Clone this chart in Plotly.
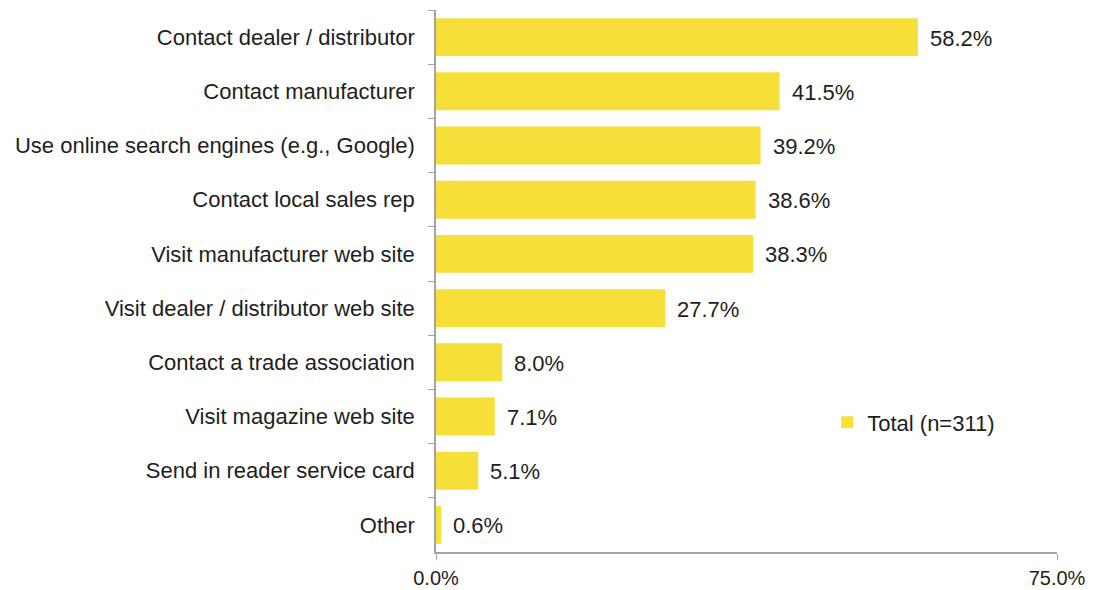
import plotly.graph_objects as go

categories = [
    "Contact dealer / distributor",
    "Contact manufacturer",
    "Use online search engines (e.g., Google)",
    "Contact local sales rep",
    "Visit manufacturer web site",
    "Visit dealer / distributor web site",
    "Contact a trade association",
    "Visit magazine web site",
    "Send in reader service card",
    "Other",
]
values = [58.2, 41.5, 39.2, 38.6, 38.3, 27.7, 8.0, 7.1, 5.1, 0.6]
series_name = "Total (n=311)"
x_tick_vals = [0, 75]
x_tick_text = ["0.0%", "75.0%"]

BAR = "#F7DF3A"
AXIS = "#A3A3A8"
TEXT = "#1E1E1E"
FONT = "Liberation Sans, Arial, sans-serif"
FS = 22

fig = go.Figure()
fig.add_trace(go.Bar(
    x=values,
    y=categories,
    orientation="h",
    name=series_name,
    marker=dict(color=BAR, line=dict(width=0)),
    showlegend=True,
    hoverinfo="skip",
))

for cat, v in zip(categories, values):
    fig.add_annotation(
        x=v, y=cat, xref="x", yref="y",
        text=f"{v:.1f}%", showarrow=False,
        xanchor="left", yanchor="middle", xshift=10, yshift=-1,
        font=dict(family=FONT, size=FS, color=TEXT),
    )

fig.update_layout(
    width=1094, height=590,
    margin=dict(l=436, r=37, t=10, b=38),
    paper_bgcolor="white", plot_bgcolor="white",
    font=dict(family=FONT, size=FS, color=TEXT),
    bargap=0.3,
    legend=dict(
        x=0.63, y=0.239, xanchor="left", yanchor="middle",
        bgcolor="rgba(0,0,0,0)", font=dict(family=FONT, size=FS, color=TEXT),
        itemwidth=30,
    ),
    xaxis=dict(
        range=[0, 75], tickvals=x_tick_vals, ticktext=x_tick_text,
        showline=True, linecolor=AXIS, linewidth=1.5,
        ticks="outside", ticklen=6, tickcolor=AXIS,
        showgrid=True, gridcolor="#E6E6E6", gridwidth=1,
        zeroline=False, fixedrange=True, ticklabelstandoff=1,
        automargin=False,
        tickfont=dict(family=FONT, size=20, color=TEXT),
    ),
    yaxis=dict(
        categoryorder="array", categoryarray=categories, autorange="reversed",
        showline=True, linecolor=AXIS, linewidth=1.5,
        ticks="outside", ticklen=6, tickcolor=AXIS, tickson="boundaries",
        showgrid=False, zeroline=False, fixedrange=True,
        ticklabelstandoff=15, automargin=False,
        tickfont=dict(family=FONT, size=FS, color=TEXT),
    ),
)

fig.write_html("out.html")
